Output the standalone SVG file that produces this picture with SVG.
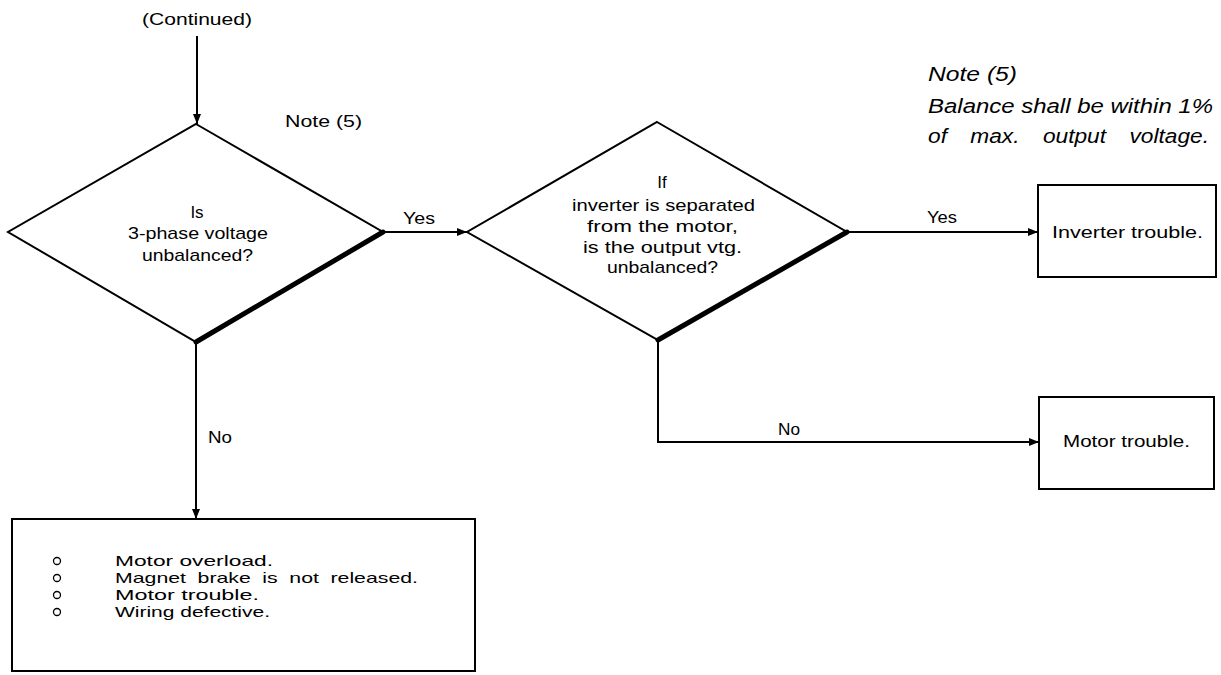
<svg xmlns="http://www.w3.org/2000/svg" width="1221" height="675" viewBox="0 0 1221 675">
<defs>
<marker id="ah" viewBox="0 0 10 8" refX="10" refY="4" markerWidth="10" markerHeight="8" markerUnits="userSpaceOnUse" orient="auto">
<path d="M0,0 L10,4 L0,8 Z" fill="#000"/>
</marker>
<style>
text{font-family:"Liberation Sans",Arial,sans-serif;fill:#000;font-size:17px}
.c{text-anchor:middle}
.it{font-style:italic;font-size:20px}
.bx{font-size:15px}
.sh{fill:#fff;stroke:#000;stroke-width:2}
.thick{fill:none;stroke:#000;stroke-width:5;stroke-linecap:round}
.ln{fill:none;stroke:#000;stroke-width:2}
.bul{fill:none;stroke:#000;stroke-width:1.3}
</style>
</defs>
<rect width="1221" height="675" fill="#fff"/>

<g id="continued">
<text x="142" y="25" textLength="110" lengthAdjust="spacingAndGlyphs">(Continued)</text>
</g>

<g id="note-label">
<text x="285" y="127" textLength="77" lengthAdjust="spacingAndGlyphs">Note (5)</text>
</g>

<g id="note5">
<text class="it" x="928" y="81" textLength="89" lengthAdjust="spacingAndGlyphs">Note (5)</text>
<text class="it" x="928" y="113" textLength="285" lengthAdjust="spacingAndGlyphs">Balance shall be within 1%</text>
<text class="it" x="928" y="143" word-spacing="15" textLength="281" lengthAdjust="spacingAndGlyphs">of max. output voltage.</text>
</g>

<g id="d1">
<polygon class="sh" points="196,124 383,232 196,342 8,232"/>
<line class="thick" x1="383" y1="232" x2="196" y2="342"/>
<text class="c" x="197" y="218">Is</text>
<text x="128" y="239" textLength="140" lengthAdjust="spacingAndGlyphs">3-phase voltage</text>
<text x="142" y="261" textLength="111" lengthAdjust="spacingAndGlyphs">unbalanced?</text>
</g>

<g id="d2">
<polygon class="sh" points="657,122 847,232 658,340 467,232"/>
<line class="thick" x1="847" y1="232" x2="658" y2="340"/>
<text class="c" x="662" y="188">If</text>
<text x="572" y="211" textLength="183" lengthAdjust="spacingAndGlyphs">inverter is separated</text>
<text x="587" y="232" textLength="151" lengthAdjust="spacingAndGlyphs">from the motor,</text>
<text x="583" y="253" textLength="159" lengthAdjust="spacingAndGlyphs">is the output vtg.</text>
<text x="607" y="273" textLength="111" lengthAdjust="spacingAndGlyphs">unbalanced?</text>
</g>

<g id="inverter">
<rect class="sh" x="1038" y="185" width="178" height="92"/>
<line class="ln" x1="1216" y1="185" x2="1216" y2="278" stroke-width="3"/>
<text x="1052" y="238" textLength="151" lengthAdjust="spacingAndGlyphs">Inverter trouble.</text>
</g>

<g id="motor">
<rect class="sh" x="1039" y="397" width="175" height="92"/>
<line class="ln" x1="1214" y1="397" x2="1214" y2="490" stroke-width="3"/>
<text x="1063" y="447" textLength="127" lengthAdjust="spacingAndGlyphs">Motor trouble.</text>
</g>

<g id="causes">
<rect class="sh" x="12" y="519" width="463" height="152"/>
<circle class="bul" cx="57" cy="561" r="3.5"/>
<circle class="bul" cx="57" cy="578" r="3.5"/>
<circle class="bul" cx="57" cy="595" r="3.5"/>
<circle class="bul" cx="57" cy="612" r="3.5"/>
<text class="bx" x="115" y="566" textLength="158" lengthAdjust="spacingAndGlyphs">Motor overload.</text>
<text class="bx" x="115" y="583" word-spacing="4" textLength="303" lengthAdjust="spacingAndGlyphs">Magnet brake is not released.</text>
<text class="bx" x="115" y="600" textLength="144" lengthAdjust="spacingAndGlyphs">Motor trouble.</text>
<text class="bx" x="115" y="617" textLength="155" lengthAdjust="spacingAndGlyphs">Wiring defective.</text>
</g>

<g id="connectors">
<line class="ln" x1="197" y1="36" x2="197" y2="124" marker-end="url(#ah)"/>
<line class="ln" x1="383" y1="232" x2="467" y2="232" marker-end="url(#ah)"/>
<line class="ln" x1="847" y1="232" x2="1038" y2="232" marker-end="url(#ah)"/>
<line class="ln" x1="196" y1="342" x2="196" y2="519" marker-end="url(#ah)"/>
<polyline class="ln" points="658,340 658,442 1039,442" marker-end="url(#ah)"/>
<text x="403" y="224" textLength="32" lengthAdjust="spacingAndGlyphs">Yes</text>
<text x="927" y="223" textLength="30" lengthAdjust="spacingAndGlyphs">Yes</text>
<text x="208" y="443" textLength="24" lengthAdjust="spacingAndGlyphs">No</text>
<text x="778" y="435" textLength="22" lengthAdjust="spacingAndGlyphs">No</text>
</g>
</svg>
